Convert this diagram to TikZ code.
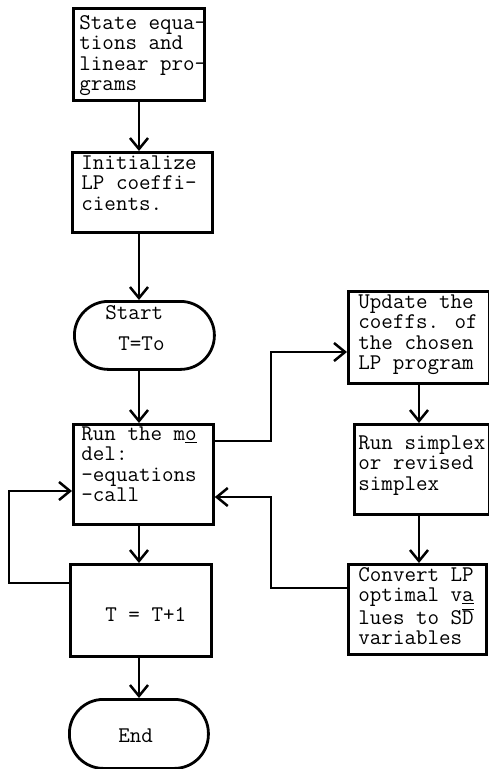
\documentclass[tikz,border=0pt]{standalone}
\usetikzlibrary{arrows.meta,calc}

% one typed line of a box: fixed strut so every line takes the same room
\newcommand\flstrut{\vrule height14pt depth6pt width0pt}
\newcommand\fl[2][\fpad]{\hbox to\hsize{\kern#1\flstrut#2\hss}}
% box contents: width, height, left pad, first baseline below top, lines
\newcommand\flowbox[5]{\vbox to #2{\hsize=#1\relax\def\fpad{#3}\kern\dimexpr#4-14pt\relax#5\vss}}

\begin{document}
\begin{tikzpicture}[
  x=1pt, y=-1pt,
  font=\ttfamily\fontsize{22.4}{20.3}\selectfont,
  box/.style={draw, line width=2.8pt, inner sep=0pt, anchor=north west},
  term/.style={box, rounded corners=34pt},
  arr/.style={line width=2.5pt, line join=miter, -{Straight Barb[length=11pt,width=18pt]}}
]
\useasboundingbox (0,0) rectangle (489,769);

% main column
\node[box] (state) at (72,7)
  {\flowbox{131pt}{92pt}{6pt}{21pt}{\fl{State equa-}\fl{tions and}\fl{linear pro-}\fl{grams}}};
\node[box] (init) at (71,151)
  {\flowbox{140pt}{80pt}{9pt}{17pt}{\fl{Initialize}\fl{LP coeffi-}\fl{cients.}}};
\node[term] (start) at (73,300)
  {\flowbox{140pt}{68pt}{31pt}{18pt}{\fl{Start}\kern10.7pt\fl[44pt]{T=To}}};
\node[box] (run) at (72,423)
  {\flowbox{140pt}{100pt}{8pt}{16pt}{\fl{Run the m\underline{o}}\fl{del:}\fl{-equations}\fl{-call}}};
\node[box] (tinc) at (69,563)
  {\flowbox{141pt}{92pt}{35pt}{57pt}{\fl{T = T+1}}};
\node[term] (finish) at (68,698)
  {\flowbox{139pt}{69pt}{49pt}{43pt}{\fl{End}}};

% LP column
\node[box] (upd) at (347,290)
  {\flowbox{141pt}{92pt}{10pt}{17pt}{\fl{Update the}\fl{coeffs. of}\fl{the chosen}\fl{LP program}}};
\node[box] (simp) at (353,423)
  {\flowbox{135pt}{90pt}{4pt}{25pt}{\fl{Run simplex}\fl{or revised}\fl{simplex}}};
\node[box] (conv) at (347,563)
  {\flowbox{138pt}{90pt}{10pt}{17pt}{\fl{Convert LP}\fl{optimal v\underline{a}}\fl{lues to S$\overline{\mbox{D}}$}\fl{variables}}};

% guide lines for the connectors
\coordinate (colL) at (139,0);
\coordinate (colR) at (419,0);
\coordinate (busR) at (271,0);
\coordinate (busL) at (9,0);

% straight flow down each column
\draw[arr] (state.south -| colL) -- (init.north -| colL);
\draw[arr] (init.south -| colL) -- (start.north -| colL);
\draw[arr] (start.south -| colL) -- (run.north -| colL);
\draw[arr] (run.south -| colL) -- (tinc.north -| colL);
\draw[arr] (tinc.south -| colL) -- (finish.north -| colL);
\draw[arr] (upd.south -| colR) -- (simp.north -| colR);
\draw[arr] (simp.south -| colR) -- (conv.north -| colR);

% model calls the LP part
\coordinate (outA) at ($(run.north east)+(0,18)$);
\coordinate (inA) at ($(upd.north west)+(0,62)$);
\draw[arr] (outA) -- (outA -| busR) -- (inA -| busR) -- (inA);

% LP results back into the model
\coordinate (outB) at ($(conv.north west)+(0,25)$);
\coordinate (inB) at ($(run.north east)+(0,74)$);
\draw[arr] (outB) -- (outB -| busR) -- (inB -| busR) -- (inB);

% time step loop
\coordinate (outC) at ($(tinc.north west)+(0,20)$);
\coordinate (inC) at ($(run.north west)+(0,68)$);
\draw[arr] (outC) -- (outC -| busL) -- (inC -| busL) -- (inC);
\end{tikzpicture}
\end{document}
